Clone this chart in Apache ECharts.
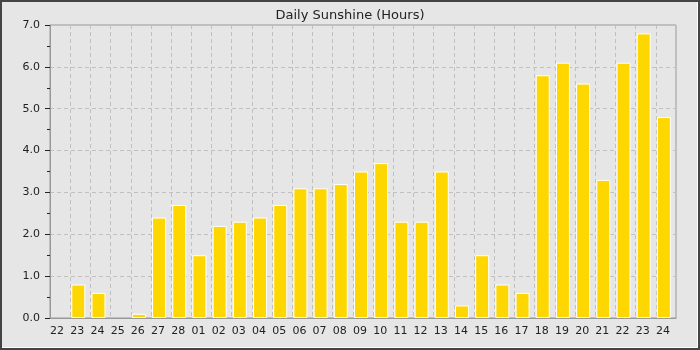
<!DOCTYPE html>
<html>
<head>
<meta charset="utf-8">
<script src="https://cdn.jsdelivr.net/npm/echarts@6/dist/echarts.min.js"></script>
<style>
html,body{margin:0;padding:0;background:#e6e6e6;}
#c{width:700px;height:350px;}
</style>
</head>
<body>
<div id="c"></div>
<script>
const titleText = "Daily Sunshine (Hours)";
const days = ["22","23","24","25","26","27","28","01","02","03","04","05","06","07","08","09","10","11","12","13","14","15","16","17","18","19","20","21","22","23","24"];
const sunshine = [0, 0.8, 0.6, 0, 0.1, 2.4, 2.7, 1.5, 2.2, 2.3, 2.4, 2.7, 3.1, 3.1, 3.2, 3.5, 3.7, 2.3, 2.3, 3.5, 0.3, 1.5, 0.8, 0.6, 5.8, 6.1, 5.6, 3.3, 6.1, 6.8, 4.8];
const spacer = days.map(() => null);
const yMin = 0, yMax = 7, yStep = 1;

const barData = sunshine.map(v => v === 0 ? {value: v, itemStyle: {borderWidth: 0}} : v);

const font = "DejaVu Sans";
const chart = echarts.init(document.getElementById('c'), null, {renderer: 'canvas'});
chart.setOption({
  backgroundColor: '#e6e6e6',
  animation: false,
  title: {
    text: titleText, left: 'center', top: 4,
    textStyle: {fontFamily: font, fontSize: 13, fontWeight: 'normal', color: '#222'}
  },
  grid: {left: 50, top: 25, right: 24, bottom: 32, show: true, borderColor: '#999', borderWidth: 1, backgroundColor: '#e6e6e6'},
  xAxis: {
    type: 'category', data: days, boundaryGap: true,
    axisLine: {lineStyle: {color: '#999', width: 1}},
    axisTick: {show: false},
    axisLabel: {fontFamily: font, fontSize: 11, color: '#222', margin: 8, interval: 0, padding: [0, 6, 0, 0]},
    splitLine: {show: true, interval: 0, lineStyle: {color: '#c0c0c0', type: [4, 3], width: 1}}
  },
  yAxis: {
    type: 'value', min: yMin, max: yMax, interval: yStep,
    axisLine: {show: true, lineStyle: {color: '#999', width: 1}},
    axisTick: {show: true, length: 5, lineStyle: {color: '#222'}},
    minorTick: {show: true, splitNumber: 2, length: 3, lineStyle: {color: '#222'}},
    axisLabel: {fontFamily: font, fontSize: 11, color: '#222', margin: 10, formatter: v => v.toFixed(1)},
    splitLine: {show: true, lineStyle: {color: '#c0c0c0', type: [4, 3], width: 1}}
  },
  series: [
    {type: 'bar', data: barData, barWidth: 14, barGap: '0%',
     itemStyle: {color: '#FFD700', borderColor: '#ffffff', borderWidth: 1}},
    {type: 'bar', data: spacer, barWidth: 4, barGap: '0%', silent: true,
     itemStyle: {color: 'rgba(0,0,0,0)'}}
  ],
  graphic: [
    {type: 'rect', shape: {x: 1, y: 1, width: 698, height: 348}, style: {fill: null, stroke: '#444', lineWidth: 2}, silent: true},
    {type: 'polyline', shape: {points: [[2, 347.5], [697.5, 347.5], [697.5, 2]]}, style: {fill: null, stroke: '#ffffff', lineWidth: 1}, silent: true}
  ]
});
</script>
</body>
</html>
